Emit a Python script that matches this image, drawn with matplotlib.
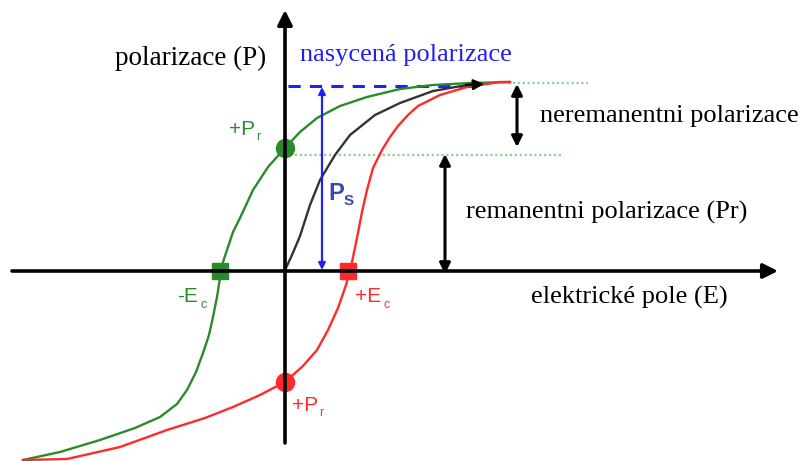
import matplotlib
matplotlib.use("Agg")
import matplotlib.pyplot as plt

# pixel-space schematic (x right, y down)
GREEN, RED, BLUE = "#2b8a2b", "#ff2a2a", "#2020f0"
SERIF = "Liberation Serif"
SANS = "Liberation Sans"

green_x = [23, 60, 100, 135, 160, 177, 187, 196, 203, 209, 213, 217, 220, 223, 228, 233, 240,
           253, 268, 285, 300, 317, 340, 367, 400, 433, 470, 510]
green_y = [460, 452, 440, 428, 417, 404, 390, 372, 353, 335, 317, 297, 278, 262, 247, 232, 218,
           190, 167, 148, 132, 118, 106, 97, 89, 85, 83, 82]
red_x = [23, 67, 120, 167, 205, 233, 260, 285, 303, 317, 328, 338, 346, 352, 357, 362, 367, 373,
         382, 390, 398, 408, 418, 440, 467, 500, 510]
red_y = [460, 459, 447, 430, 418, 407, 395, 382, 366, 350, 330, 308, 285, 262, 238, 212, 190, 168,
         150, 137, 126, 115, 106, 95, 87, 82, 82]
black_x = [285, 292, 300, 310, 320, 335, 350, 375, 400, 433, 467, 478]
black_y = [270, 255, 236, 205, 180, 155, 135, 115, 103, 91, 85, 84]

origin = (285, 271)
x_axis = (12, 778)
y_axis = (443, 10)
p_sat, p_rem = 86, 155
ps_x = 322

fig = plt.figure(figsize=(8.05, 4.61), dpi=100)
ax = fig.add_axes([0, 0, 1, 1])
ax.set_xlim(0, 805); ax.set_ylim(461, 0); ax.axis("off")

def arr(x1, y1, x2, y2, color="black", style="-|>", lw=2.2, ms=16):
    ax.annotate("", xy=(x2, y2), xytext=(x1, y1),
                arrowprops=dict(arrowstyle=style, color=color, lw=lw, mutation_scale=ms,
                                shrinkA=0, shrinkB=0))

# axes
arr(x_axis[0], origin[1], x_axis[1], origin[1], lw=2.6, ms=22)
arr(origin[0], y_axis[0], origin[0], y_axis[1], lw=2.6, ms=22)

# dotted guide lines
ax.plot([285, 563], [p_rem, p_rem], color="#8fcf8f", ls=(0, (1, 1.2)), lw=1.6)
ax.plot([508, 588], [83, 83], color="#8fcf8f", ls=(0, (1, 1.2)), lw=1.6)

# saturation dashed line
ax.plot([288, 478], [p_sat, p_sat], color=BLUE, ls=(0, (4, 3)), lw=2.2)

# curves
ax.plot(green_x, green_y, color=GREEN, lw=1.7)
ax.plot(red_x, red_y, color=RED, lw=1.7)
ax.plot(black_x, black_y, color="#333333", lw=1.7)
arr(466, 85, 484, 84, color="black", lw=1.5, ms=16)

# Ps arrow
arr(ps_x, origin[1] - 1, ps_x, p_sat + 1, color=BLUE, style="<|-|>", lw=1.6, ms=10)
ax.text(328, 193, "P", family=SANS, color="#3a4aa8", fontsize=17, fontweight="bold", ha="left", va="center")
ax.text(344, 201, "S", family=SANS, color="#3a4aa8", fontsize=11, fontweight="bold", ha="left", va="center")

# black double arrows
arr(517, 147, 517, 84, style="<|-|>", lw=2.2, ms=16)
arr(445, 274, 445, 154, style="<|-|>", lw=2.2, ms=16)

# markers
ax.plot(285, 148, "o", color=GREEN, ms=13)
ax.plot(220, 271, "s", color=GREEN, ms=11)
ax.plot(348, 271, "s", color=RED, ms=11)
ax.plot(285, 382, "o", color=RED, ms=13)

# point labels
lab = dict(family=SANS, ha="left", va="center")
ax.text(229, 129, "+P", color=GREEN, fontsize=15, **lab)
ax.text(256, 137, "r", color=GREEN, fontsize=9, **lab)
ax.text(177, 296, "-E", color=GREEN, fontsize=15, **lab)
ax.text(200, 305, "c", color=GREEN, fontsize=9, **lab)
ax.text(355, 296, "+E", color=RED, fontsize=15, **lab)
ax.text(383, 305, "c", color=RED, fontsize=9, **lab)
ax.text(292, 405, "+P", color=RED, fontsize=15, **lab)
ax.text(319, 413, "r", color=RED, fontsize=9, **lab)

# text labels
ax.text(266, 58, "polarizace (P)", family=SERIF, fontsize=19.5, ha="right", va="center")
ax.text(300, 55, "nasycená polarizace", family=SERIF, fontsize=19, color=BLUE, ha="left", va="center")
ax.text(540, 116, "neremanentni polarizace", family=SERIF, fontsize=19, ha="left", va="center")
ax.text(466, 212, "remanentni polarizace (Pr)", family=SERIF, fontsize=19, ha="left", va="center")
ax.text(531, 297, "elektrické pole (E)", family=SERIF, fontsize=19, ha="left", va="center")

fig.savefig("out.png", dpi=100)
